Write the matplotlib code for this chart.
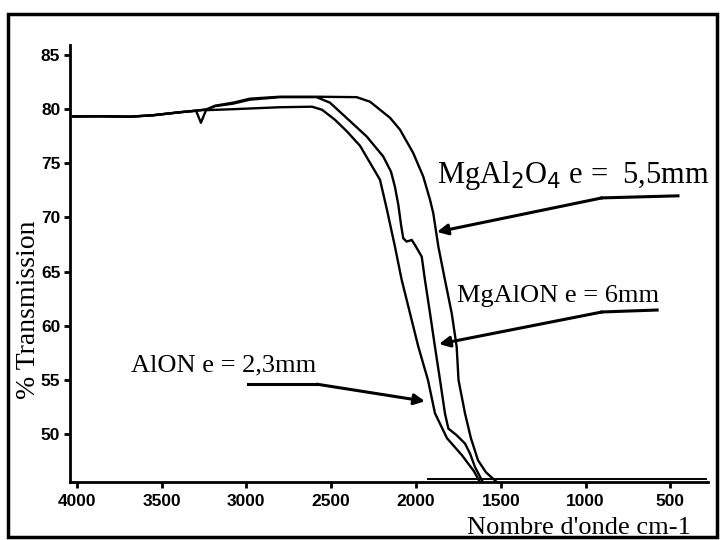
import numpy as np
import matplotlib
matplotlib.use("Agg")
import matplotlib.pyplot as plt
from matplotlib.patches import Rectangle

# common start of the three spectra (flat part at high wavenumber)
x_start = [4023, 3864, 3687, 3551, 3392, 3297]
y_start = [79.31, 79.33, 79.29, 79.42, 79.70, 79.84]

# AlON e = 2,3mm
x_alon = [3268, 3238, 3079, 2802, 2613, 2554, 2478, 2407, 2330, 2271, 2212, 2171,
          2124, 2084, 2035, 1986, 1929, 1888, 1817, 1729, 1658, 1622]
y_alon = [78.73, 79.89, 79.98, 80.16, 80.21, 79.93, 79.01, 77.93, 76.61, 75.04, 73.47, 70.70,
          67.31, 64.23, 61.15, 58.07, 54.99, 51.94, 49.64, 48.07, 46.59, 45.57]

# MgAlON e = 6mm
x_mgalon = [3233, 3185, 3079, 2979, 2802, 2586, 2507, 2409, 2291, 2193, 2147, 2124,
            2104, 2088, 2075, 2055, 2025, 2006, 1966, 1947, 1917, 1888, 1858, 1829,
            1809, 1760, 1711, 1681, 1652, 1605]
y_mgalon = [79.93, 80.26, 80.49, 80.86, 81.09, 81.09, 80.58, 79.17, 77.47, 75.62, 74.21, 72.82,
            71.16, 69.31, 68.08, 67.77, 67.92, 67.46, 66.38, 64.23, 61.15, 58.07, 54.99, 51.92,
            50.53, 49.91, 49.15, 48.22, 46.98, 45.57]

# MgAl2O4 e = 5,5mm
x_spinel = [3233, 3185, 3079, 2979, 2802, 2586, 2350, 2271, 2212, 2153, 2094, 2016,
            1957, 1917, 1898, 1868, 1829, 1789, 1760, 1749, 1711, 1676, 1634, 1587, 1522]
y_spinel = [79.98, 80.30, 80.58, 80.95, 81.13, 81.13, 81.09, 80.67, 79.93, 79.19, 78.09, 75.93,
            73.77, 71.62, 70.39, 67.31, 64.23, 61.15, 58.07, 54.99, 51.94, 49.64, 47.60, 46.49, 45.57]

# zero-transmission baseline
x_base = [1930, 290]
y_base = [45.85, 45.85]

xticks = [4000, 3500, 3000, 2500, 2000, 1500, 1000, 500]
yticks = [50, 55, 60, 65, 70, 75, 80, 85]

serif = "Liberation Serif"

fig = plt.figure(figsize=(7.21, 5.40), dpi=100)
ax = fig.add_axes([70 / 721, 1 - 482 / 540, 638 / 721, 437 / 540])

lw = 1.7
for xs, ys in [(x_alon, y_alon), (x_mgalon, y_mgalon), (x_spinel, y_spinel)]:
    ax.plot(x_start + xs, y_start + ys, color="black", lw=lw, solid_capstyle="round")
ax.plot(x_base, y_base, color="black", lw=1.4)

ax.set_xlim(4040, 278)
ax.set_ylim(45.6, 85.9)
ax.set_xticks(xticks)
ax.set_yticks(yticks)
ax.tick_params(direction="out", length=4, width=2, colors="black")
ax.tick_params(axis="x", pad=5)
ax.tick_params(axis="y", pad=3)
for lab in ax.get_xticklabels() + ax.get_yticklabels():
    lab.set_fontfamily("Liberation Sans")
    lab.set_fontweight("bold")
    lab.set_fontsize(12.5)

for s in ["top", "right"]:
    ax.spines[s].set_visible(False)
for s in ["left", "bottom"]:
    ax.spines[s].set_linewidth(2)

ax.set_ylabel("% Transmission", fontfamily=serif, fontsize=20)
ax.yaxis.set_label_coords(-0.046, 0.394)

# labels with kinked arrows
arrows = [
    ("MgAl$_2$O$_4$ e =  5,5mm", 22, (1876, 73.84), [(455, 71.99), (903, 71.80)], (1876, 68.66)),
    ("MgAlON e = 6mm", 19, (1758, 62.75), [(578, 61.46), (903, 61.28)], (1864, 58.32)),
    ("AlON e = 2,3mm", 19, (3681, 56.38), [(2991, 54.62), (2584, 54.62)], (1947, 53.05)),
]
for txt, fs, pos, seg, head in arrows:
    ax.text(pos[0], pos[1], txt, fontfamily=serif, fontsize=fs, ha="left", va="center")
    ax.plot([seg[0][0], seg[1][0]], [seg[0][1], seg[1][1]], color="black", lw=2.2)
    ax.annotate("", xy=head, xytext=seg[1],
                arrowprops=dict(arrowstyle="-|>", color="black", lw=2.2,
                                mutation_scale=16, shrinkA=0, shrinkB=0))

fig.text(467 / 721, 1 / 540, "Nombre d'onde cm-1", fontfamily=serif, fontsize=19,
         ha="left", va="bottom")

# outer frame of the scanned figure
fig.add_artist(Rectangle((8 / 721, 3 / 540), 709 / 721, 523 / 540,
                         transform=fig.transFigure, fill=False, lw=2.5, ec="black"))

fig.savefig("out.png", dpi=100)
